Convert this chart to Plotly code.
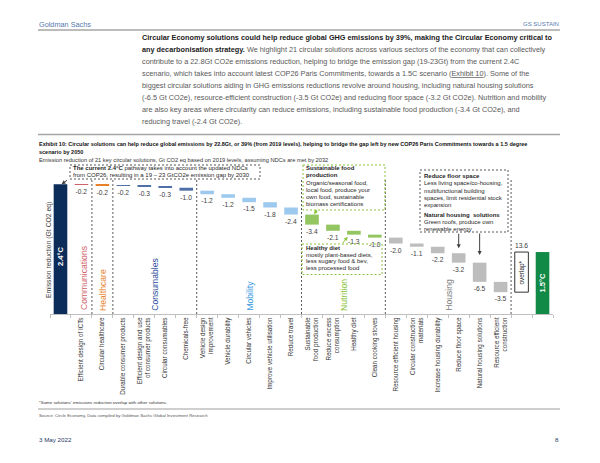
import plotly.graph_objects as go

# ---------------- data ----------------
start_label = "2.4°C"
end_label = "1.5°C"
start_level = 44.0          # height of the 2.4°C pathway bar (unlabelled)
solutions = [
    "Efficient design of ICTs", "Circular healthcare", "Durable consumer products",
    "Efficient design and use<br>of consumer products", "Circular consumables", "Chemicals-free",
    "Vehicle design<br>improvement", "Vehicle durability", "Circular vehicles",
    "Improve vehicle utilisation", "Reduce travel", "Sustainable<br>food production",
    "Reduce excess<br>consumption", "Healthy diet", "Clean cooking stoves",
    "Resource efficient housing", "Circular construction<br>materials", "Increase housing durability",
    "Reduce floor space", "Natural housing solutions", "Resource efficient<br>construction",
]
reductions = [-0.2, -0.2, -0.2, -0.3, -0.3, -1.0, -1.2, -1.2, -1.5, -1.8, -2.4,
              -3.4, -2.1, -1.3, -1.0, -2.0, -1.1, -2.2, -3.2, -6.5, -3.5]
sectors = (["Communications", "Healthcare"] + ["Consumables"] * 4 + ["Mobility"] * 5
           + ["Nutrition"] * 4 + ["Housing"] * 6)
overlap = 13.6
overlap_label = "overlap*"

sector_bar_colors = {"Communications": "#d0616a", "Healthcare": "#e8822a", "Consumables": "#4f6fa8",
                     "Mobility": "#9dc9ee", "Nutrition": "#93c560", "Housing": "#bdbdbd"}
sector_text_colors = {"Communications": "#d0616a", "Healthcare": "#e8822a", "Consumables": "#2c4c9c",
                      "Mobility": "#3a9ae0", "Nutrition": "#8cc43c", "Housing": "#7f7f7f"}

FONT = "Liberation Sans, Arial, sans-serif"

WIDTH, HEIGHT = 600, 463
OX, OY = 8, 8                      # page offset of the figure inside the browser window
L, T = 42, 156                     # plot area starts at window x=50, y=164
PW, PH = 503, 150
R = WIDTH - L - PW
B = HEIGHT - T - PH
YMAX = 50.85


def px(x):
    """window pixel x -> paper"""
    return (x - OX - L) / PW


def py(y):
    """window pixel y -> paper"""
    return (OY + T + PH - y) / PH


# ---------------- waterfall levels ----------------
n = len(solutions)
xs = list(range(1, n + 1))
bases = []
lvl = start_level
for r in reductions:
    bases.append(lvl)
    lvl += r
end_level = lvl
final_level = end_level + overlap

fig = go.Figure()
BW = 0.65
VAL_FONT = dict(family=FONT, size=6.7, color="#404040")
fig.add_bar(x=[0], y=[start_level], width=BW, marker=dict(color="#0c2c5a", line=dict(width=0)))
fig.add_bar(x=xs, y=reductions, base=bases, width=BW,
            marker=dict(color=[sector_bar_colors[s] for s in sectors], line=dict(width=0)),
            text=[f"{v:.1f}" for v in reductions], textposition="outside", constraintext="none",
            textangle=0, outsidetextfont=VAL_FONT, cliponaxis=False)
fig.add_bar(x=[n + 1], y=[overlap], base=[end_level], width=BW,
            marker=dict(color="white", line=dict(color="#333333", width=1)),
            text=[f"{overlap:.1f}"], textposition="outside", constraintext="none", textangle=0,
            outsidetextfont=VAL_FONT, cliponaxis=False)
fig.add_bar(x=[n + 2], y=[final_level], width=BW, marker=dict(color="#128a47", line=dict(width=0)))

# labels inside the big bars
fig.add_annotation(x=0, y=start_level * 0.45, text=f"<b>{start_label}</b>", textangle=-90, showarrow=False,
                   font=dict(family=FONT, size=7.6, color="white"))
fig.add_annotation(x=n + 2, y=final_level * 0.5, text=f"<b>{end_label}</b>", textangle=-90, showarrow=False,
                   font=dict(family=FONT, size=7.6, color="white"))
fig.add_annotation(x=n + 1, y=end_level + overlap * 0.48, text=overlap_label, textangle=-90, showarrow=False,
                   font=dict(family=FONT, size=6.4, color="#222222"))

# sector separators and sector names
shapes = []
for i in range(1, n):
    if sectors[i] != sectors[i - 1]:
        shapes.append(dict(type="line", xref="x", yref="y", x0=i + 0.5, x1=i + 0.5, y0=0, y1=45.6,
                           line=dict(color="#595959", width=1, dash="2px,2px")))
shapes.append(dict(type="line", xref="x", yref="y", x0=n + 0.5, x1=n + 0.5, y0=0, y1=45.6,
                   line=dict(color="#595959", width=1, dash="2px,2px")))
seen = []
for s in sectors:
    if s not in seen:
        seen.append(s)
for s in seen:
    idx = [i + 1 for i, t in enumerate(sectors) if t == s]
    xc = sum(idx) / len(idx)
    if s == "Communications":
        xc += 0.1
    fig.add_annotation(x=xc, xref="x", y=py(312.5), yref="paper", text=s, textangle=-90, showarrow=False,
                       yanchor="bottom", font=dict(family=FONT, size=8.6, color=sector_text_colors[s]))

# y axis title
fig.add_annotation(x=px(43), y=py(250), xref="paper", yref="paper", text="Emission reduction (Gt CO2 eq)",
                   textangle=-90, showarrow=False, font=dict(family=FONT, size=6.8, color="#404040"))


def txt(x, y, s, size, color="#262626", xanchor="left", yanchor="middle"):
    fig.add_annotation(x=px(x), y=py(y), xref="paper", yref="paper", text=s, showarrow=False,
                       xanchor=xanchor, yanchor=yanchor, borderpad=0,
                       font=dict(family=FONT, size=size, color=color))


def rect(x0, y0, x1, y1, color):
    shapes.append(dict(type="rect", xref="paper", yref="paper", x0=px(x0), x1=px(x1), y0=py(y0), y1=py(y1),
                       line=dict(color=color, width=1, dash="2px,2px"), fillcolor="rgba(0,0,0,0)"))


def hline(x0, x1, y, color, width):
    shapes.append(dict(type="line", xref="paper", yref="paper", x0=px(x0), x1=px(x1), y0=py(y), y1=py(y),
                       line=dict(color=color, width=width)))


# callout boxes
BOXT = 6.0
rect(70, 165, 260, 179, "#595959")
txt(72, 168.4, "<b>The current 2.4°C</b> pathway takes into account the updated NDCs", BOXT)
txt(72, 175.2, "from COP26, resulting in a 19 – 23 GtCO2e emission gap by 2030", BOXT)

GREEN = "#8cc43c"
rect(303, 165, 385, 210, GREEN)
for y, s in zip([168.3, 175.2, 182.5, 189.8, 197.1, 204.2],
                ["<b>Sustainable food</b>", "<b>production</b>", "Organic/seasonal food,",
                 "local food, produce your", "own food, sustainable", "biomass certifications"]):
    txt(305, y, s, BOXT)

rect(302, 244, 382, 274.5, GREEN)
for y, s in zip([248.3, 254.8, 261.3, 267.8],
                ["<b>Healthy diet</b>", "mostly plant-based diets,", "less sugary food & bev,",
                 "less processed food"]):
    txt(305, y, s, BOXT)

rect(420, 170, 508, 232, "#595959")
for y, s in zip([176, 183.2, 190.5, 197.8, 204.6, 215, 222.2, 229.4],
                ["<b>Reduce floor space</b>", "Less living space/co-housing,", "multifunctional building",
                 "spaces, limit residential stock", "expansion", "<b>Natural housing  solutions</b>",
                 "Green roofs, produce own", "renewable energy"]):
    txt(422.5, y, s, BOXT)

# arrows
ARW = dict(showarrow=True, arrowhead=2, arrowsize=0.8, arrowwidth=1, axref="pixel", ayref="pixel",
           text="", standoff=0)
fig.add_annotation(x=0.05, y=start_level, ax=7, ay=-5, arrowcolor="#404040", **ARW)
fig.add_annotation(x=12.1, y=bases[11] + 0.1, ax=4, ay=-6, arrowcolor=GREEN, **ARW)
fig.add_annotation(x=13.7, y=bases[13] + reductions[13] - 0.7, ax=-6, ay=8, arrowcolor=GREEN, **ARW)
fig.add_annotation(x=19, y=bases[18] + 1.7, ax=0, ay=-16, arrowcolor="#404040", **ARW)
fig.add_annotation(x=20, y=bases[19] + 2.6, ax=0, ay=-23, arrowcolor="#404040", **ARW)

# ---------------- page text ----------------
BLUE = "#5679ae"
txt(38, 24, "Goldman Sachs", 7.3, BLUE)
txt(560, 24, "GS SUSTAIN", 6.0, BLUE, xanchor="right")
hline(38, 560, 30, "#a6a6a6", 1.5)

G = "#595959"
K = "#1a1a1a"
para = [
    f"<span style='color:{K}'><b>Circular Economy solutions could help reduce global GHG emissions by 39%, making the Circular Economy critical to</b></span>",
    f"<span style='color:{K}'><b>any decarbonisation strategy.</b></span> We highlight 21 circular solutions across various sectors of the economy that can collectively",
    "contribute to a 22.8Gt CO2e emissions reduction, helping to bridge the emission gap (19-23Gt) from the current 2.4C",
    "scenario, which takes into account latest COP26 Paris Commitments, towards a 1.5C scenario (<u>Exhibit 10</u>). Some of the",
    "biggest circular solutions aiding in GHG emissions reductions revolve around housing, including natural housing solutions",
    "(-6.5 Gt CO2e), resource-efficient construction (-3.5 Gt CO2e) and reducing floor space (-3.2 Gt CO2e). Nutrition and mobility",
    "are also key areas where circularity can reduce emissions, including sustainable food production (-3.4 Gt CO2e), and",
    "reducing travel (-2.4 Gt CO2e).",
]
for i, s in enumerate(para):
    txt(141, 37 + 12.1 * i, s, 7.3, G)

hline(38, 560, 134.5, "#a6a6a6", 1.5)
txt(38, 144, "<b>Exhibit 10: Circular solutions can help reduce global emissions by 22.8Gt, or 39% (from 2019 levels), helping to bridge the gap left by new COP26 Paris Commitments towards a 1.5 degree</b>", 5.5, "#111111")
txt(38, 152.3, "<b>scenario by 2050</b>", 5.5, "#111111")
txt(38, 159.5, "Emission reduction of 21 key circular solutions, Gt CO2 eq based on 2019 levels, assuming NDCs are met by 2032", 5.7, "#333333")

txt(38, 402, "*Same solutions' emissions reduction overlap with other solutions.", 4.4, "#333333")
hline(38, 560, 409, "#cfcfcf", 2)
txt(38, 415, "Source: Circle Economy, Data compiled by Goldman Sachs Global Investment Research", 4.3, "#555555")
txt(38, 439, "3 May 2022", 6.2, "#1f3864")
txt(560, 439, "8", 6.2, "#1f3864", xanchor="right")

fig.update_layout(
    width=WIDTH, height=HEIGHT, margin=dict(l=L, r=R, t=T, b=B, pad=0),
    paper_bgcolor="white", plot_bgcolor="white", showlegend=False, barmode="overlay",
    shapes=shapes,
    xaxis=dict(range=[-0.5, n + 2.5], tickmode="array", tickvals=xs, ticktext=solutions, tickangle=-90,
               tickfont=dict(family=FONT, size=6.3, color="#333333"), showline=True, linecolor="#bfbfbf",
               linewidth=1, ticks="", showgrid=False, zeroline=False, fixedrange=True,
               minor=dict(tickmode="array", tickvals=[i + 0.5 for i in range(-1, n + 3)], ticks="outside",
                          ticklen=3, tickcolor="#bfbfbf", showgrid=False)),
    yaxis=dict(range=[0, YMAX], visible=False, fixedrange=True),
)

fig.write_html("out.html")
